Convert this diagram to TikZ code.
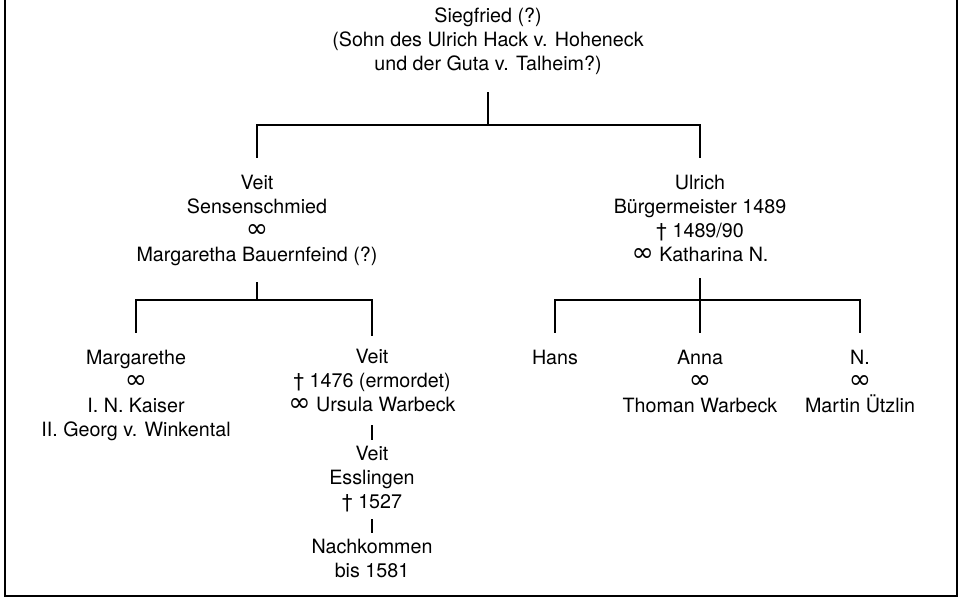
\documentclass[tikz,border=0pt]{standalone}
\usepackage{fontspec}
\setmainfont{TeX Gyre Heros}
\newfontfamily\symfont{DejaVu Sans}
\usetikzlibrary{calc}

\def\ehe{{\symfont\fontsize{19}{17.07}\selectfont ∞}}

\begin{document}
\begin{tikzpicture}[x=0.025cm, y=-0.025cm, line width=1pt,
	person/.style={align=center, inner xsep=0pt, inner ysep=11.5pt, font=\fontsize{14}{17.07}\selectfont},
	kin/.style={person, inner ysep=4.2pt}]
	\useasboundingbox (0,0) rectangle (960,598);
	\draw (5,0) |- (957,596) -- (957,0);

	\node[person, anchor=south] (sieg) at (488,92) {Siegfried (?)\\(Sohn des Ulrich Hack v. Hoheneck\\und der Guta v. Talheim?)};
	\coordinate (j1) at (488,125);

	\node[person, anchor=north] (veit) at (257,158) {Veit\\Sensenschmied\\\ehe\\Margaretha Bauernfeind (?)};
	\node[person, anchor=north] (ulrich) at (700,158) {Ulrich\\Bürgermeister 1489\\† 1489/90\\\ehe{} Katharina N.};

	\coordinate (j2) at (257,300);
	\node[person, anchor=north] (marg) at (136,333) {Margarethe\\\ehe\\I. N. Kaiser\\II. Georg v. Winkental};
	\node[person, anchor=north, inner ysep=9pt] (veitm) at (372,336) {Veit\\† 1476 (ermordet)\\\ehe{} Ursula Warbeck};
	\node[kin, anchor=north] (veite) at (372,440) {Veit\\Esslingen\\† 1527};
	\node[kin, anchor=north] (nach) at (372,533) {Nachkommen\\bis 1581};

	\coordinate (j3) at (700,300);
	\node[person, anchor=north] (hans) at (555,333) {Hans};
	\node[person, anchor=north] (anna) at (700,333) {Anna\\\ehe\\Thoman Warbeck};
	\node[person, anchor=north] (nn) at (860,333) {N.\\\ehe\\Martin Ützlin};

	\draw (sieg) -- (j1);
	\foreach \c in {veit, ulrich}
		\draw (j1) -| (\c);
	\draw (veit) -- (j2);
	\foreach \c in {marg, veitm}
		\draw (j2) -| (\c);
	\draw (veitm) -- (veite);
	\draw (veite) -- (nach);
	\draw (ulrich) -- (j3);
	\foreach \c in {hans, anna, nn}
		\draw (j3) -| (\c);
\end{tikzpicture}
\end{document}
